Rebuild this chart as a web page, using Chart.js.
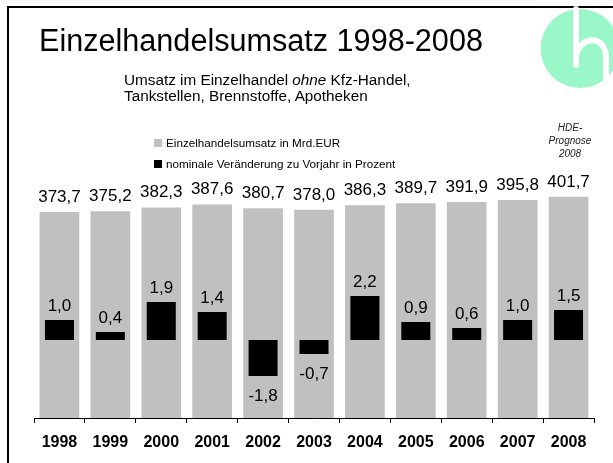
<!DOCTYPE html>
<html>
<head>
<meta charset="utf-8">
<script src="https://cdn.jsdelivr.net/npm/chart.js@4.4.0/dist/chart.umd.min.js"></script>
<style>
  html, body { margin: 0; padding: 0; overflow: hidden; background: #fff; }
  body { font-family: "Liberation Sans", Arial, sans-serif; }
  #chart { position: absolute; left: 0; top: 0; }
  .title { position: absolute; left: 39px; top: 25px; font-size: 30.6px; line-height: 30px; color: #000; white-space: nowrap; }
  .sub { position: absolute; left: 124px; top: 72px; font-size: 15.3px; line-height: 16px; color: #000; white-space: nowrap; }
  .leg { position: absolute; left: 154px; font-size: 11.7px; line-height: 12px; color: #000; white-space: nowrap; }
  .leg span { display: inline-block; width: 8px; height: 8px; margin-right: 4px; vertical-align: 0px; }
  .note { position: absolute; left: 540px; width: 60px; top: 121px; text-align: center;
          font-size: 10px; line-height: 13px; font-style: italic; color: #222; }
  #logo { position: absolute; left: 535px; top: 5px; }
</style>
</head>
<body>
<canvas id="chart" width="613" height="463"></canvas>
<div class="title">Einzelhandelsumsatz 1998-2008</div>
<div class="sub">Umsatz im Einzelhandel <i>ohne</i> Kfz-Handel,<br>Tankstellen, Brennstoffe, Apotheken</div>
<div class="leg" style="top:137px"><span style="background:#c0c0c0"></span>Einzelhandelsumsatz in Mrd.EUR</div>
<div class="leg" style="top:158px"><span style="background:#000"></span>nominale Veränderung zu Vorjahr in Prozent</div>
<div class="note">HDE-<br>Prognose<br>2008</div>
<svg id="logo" width="78" height="90" viewBox="535 5 78 90">
  <circle cx="580" cy="48.5" r="39.5" fill="#9af7c8"/>
  <path d="M576,9 L576,65" stroke="#fff" stroke-width="6" stroke-linecap="round" fill="none"/>
  <path d="M576,56 C578,38 604,32 606,56 L606,88" stroke="#fff" stroke-width="6" fill="none"/>
</svg>
<script>
// Daten
const years = ['1998', '1999', '2000', '2001', '2002', '2003', '2004', '2005', '2006', '2007', '2008'];
const umsatz = [373.7, 375.2, 382.3, 387.6, 380.7, 378.0, 386.3, 389.7, 391.9, 395.8, 401.7];
const veraenderung = [1.0, 0.4, 1.9, 1.4, -1.8, -0.7, 2.2, 0.9, 0.6, 1.0, 1.5];

function fmt(v) {
    return v.toFixed(1).replace('.', ',');
}

// Rahmen links und oben
const frame = {
    id: 'frame',
    beforeDraw(chart) {
        const ctx = chart.ctx;
        ctx.save();
        ctx.fillStyle = '#000';
        ctx.fillRect(7, 6, 2, chart.height);
        ctx.fillRect(7, 6, chart.width, 2);
        ctx.restore();
    }
};

// Werte über / unter den Balken
const valueLabels = {
    id: 'valueLabels',
    afterDatasetsDraw(chart) {
        const ctx = chart.ctx;
        ctx.save();
        ctx.fillStyle = '#000';
        ctx.textAlign = 'center';
        ctx.textBaseline = 'alphabetic';
        ctx.font = '17px "Liberation Sans", Arial, sans-serif';
        chart.getDatasetMeta(1).data.forEach((bar, i) => {
            ctx.fillText(fmt(umsatz[i]), bar.x, bar.y - 10);
        });
        chart.getDatasetMeta(0).data.forEach((bar, i) => {
            const v = veraenderung[i];
            if (v >= 0) {
                ctx.fillText(fmt(v), bar.x, bar.y - 9);
            } else {
                ctx.fillText(fmt(v), bar.x, bar.y + 25);
            }
        });
        ctx.restore();
    }
};

const ctx = document.getElementById('chart').getContext('2d');
new Chart(ctx, {
    type: 'bar',
    data: {
        labels: years,
        datasets: [{
            label: 'nominale Veränderung zu Vorjahr in Prozent',
            data: veraenderung,
            yAxisID: 'y1',
            backgroundColor: '#000',
            barPercentage: 0.57,
            categoryPercentage: 1,
            grouped: false,
            order: 0
        }, {
            label: 'Einzelhandelsumsatz in Mrd.EUR',
            data: umsatz,
            yAxisID: 'y',
            backgroundColor: '#c0c0c0',
            barPercentage: 0.78,
            categoryPercentage: 1,
            grouped: false,
            order: 1
        }]
    },
    options: {
        responsive: false,
        animation: false,
        layout: { padding: { left: 34, right: 19, top: 180, bottom: 0 } },
        plugins: {
            legend: { display: false },
            tooltip: { enabled: false }
        },
        scales: {
            x: {
                grid: { display: true, drawOnChartArea: false, tickLength: 5, color: '#000', offset: true },
                border: { display: true, color: '#000', width: 1 },
                ticks: {
                    color: '#000',
                    padding: 10.4,
                    font: { family: '"Liberation Sans", Arial, sans-serif', size: 16, weight: 'bold' }
                }
            },
            y: { display: false, min: 0, max: 432 },
            y1: { display: false, min: -3.9, max: 8 }
        }
    },
    plugins: [frame, valueLabels]
});
</script>
</body>
</html>
